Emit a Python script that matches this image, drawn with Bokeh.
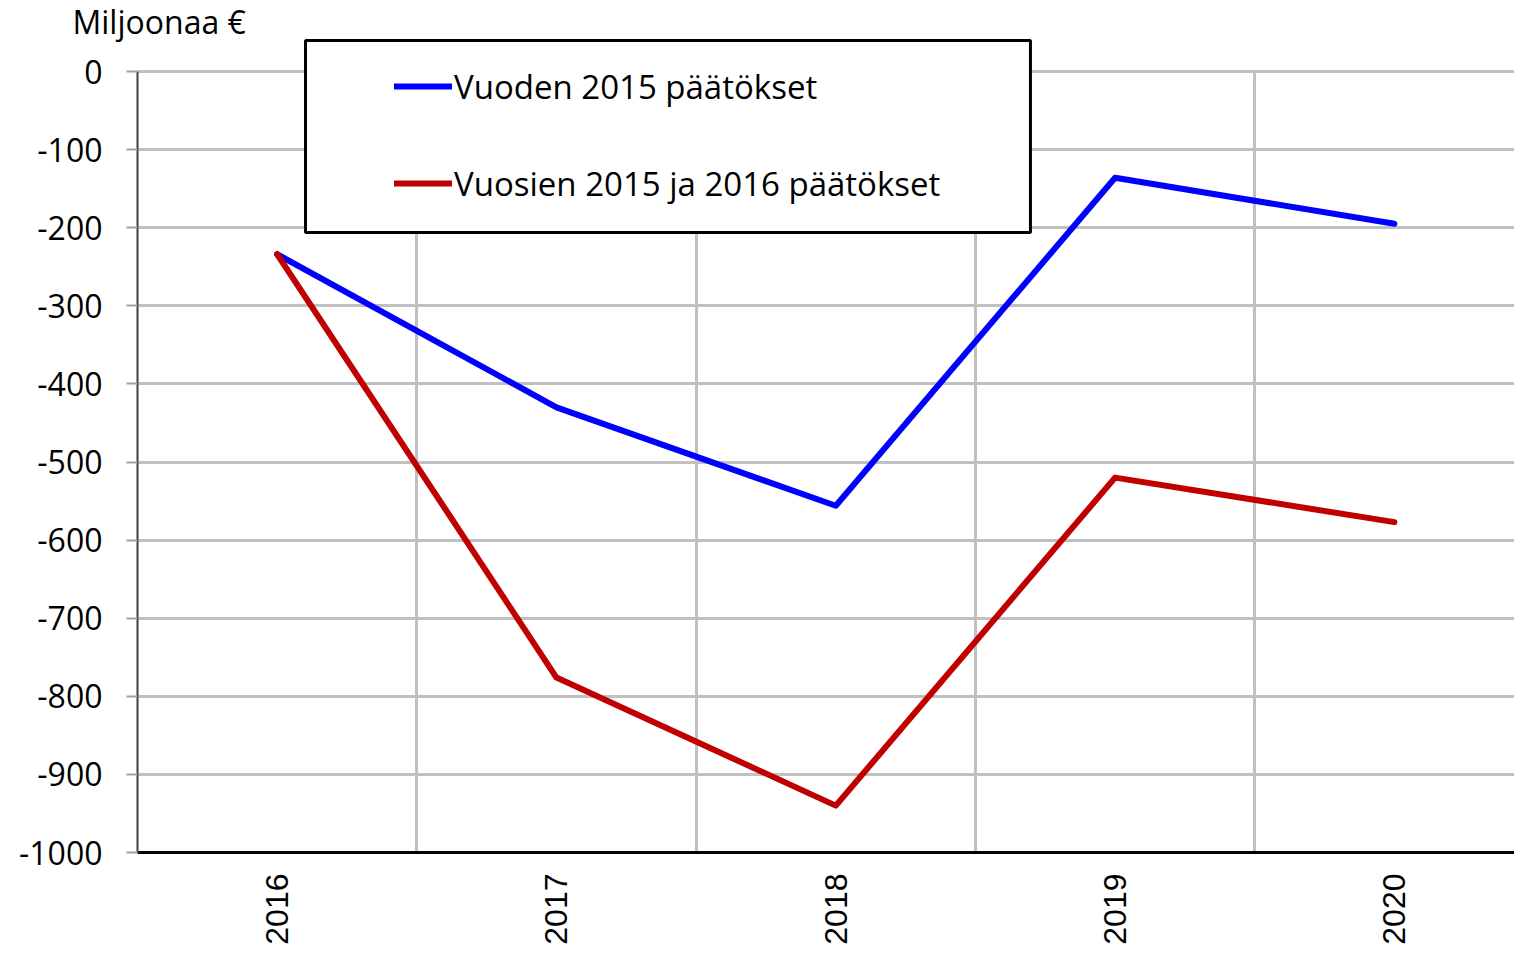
import math
from bokeh.plotting import figure
from bokeh.models import (Range1d, FixedTicker, Grid, Legend, LegendItem,
                          BoxAnnotation)
from bokeh.embed import file_html
from bokeh.resources import INLINE

# ---- data ----
years = [2016, 2017, 2018, 2019, 2020]
decisions_2015 = [-234, -430, -556, -136, -195]
decisions_2015_2016 = [-234, -776, -940, -520, -577]
y_ticks = [0, -100, -200, -300, -400, -500, -600, -700, -800, -900, -1000]
label_2015 = "Vuoden 2015 päätökset"
label_2015_2016 = "Vuosien 2015 ja 2016 päätökset"
unit_label = "Miljoonaa €"

FONT = "Open Sans"
TOP = 38            # frame top in pixels
PX_PER_UNIT = 0.781  # pixels per data unit on y
y_end = (71 - TOP) / PX_PER_UNIT

p = figure(width=1514, height=953, output_backend="svg", toolbar_location=None,
           x_range=Range1d(2015.5, 2020.43), y_range=Range1d(-1000, y_end),
           min_border_left=137, min_border_top=TOP, min_border_right=0,
           min_border_bottom=101)
p.outline_line_color = None
p.background_fill_color = "white"

# title used as unit label
p.title.text = unit_label
p.title.align = "left"
p.title.offset = -65
p.title.text_font = FONT
p.title.text_font_size = "32px"
p.title.text_font_style = "normal"
p.title.text_color = "black"
p.title.standoff = -8

# grids
p.xgrid.visible = False
p.ygrid.ticker = FixedTicker(ticks=y_ticks)
p.ygrid.grid_line_color = "#c0c0c0"
p.ygrid.grid_line_width = 3
vgrid = Grid(dimension=0, ticker=FixedTicker(ticks=[y + 0.5 for y in years[:-1]]),
             grid_line_color="#c0c0c0", grid_line_width=3,
             cross_bounds=(-1000, 0))
p.add_layout(vgrid)

# axes
p.xaxis.ticker = FixedTicker(ticks=years)
p.xaxis.major_label_orientation = math.pi / 2
p.xaxis.major_label_text_font = "Liberation Sans"
p.xaxis.major_label_text_font_size = "32px"
p.xaxis.major_label_text_color = "black"
p.xaxis.major_label_standoff = 21
p.xaxis.major_tick_out = 0
p.xaxis.major_tick_in = 0
p.xaxis.minor_tick_line_color = None
p.xaxis.axis_line_color = "black"
p.xaxis.axis_line_width = 3

p.yaxis.ticker = FixedTicker(ticks=y_ticks)
p.yaxis.bounds = (-1000, 0)
p.yaxis.major_label_overrides = {t: str(t) for t in y_ticks}
p.yaxis.major_label_text_font = FONT
p.yaxis.major_label_text_font_size = "32px"
p.yaxis.major_label_text_color = "black"
p.yaxis.major_label_standoff = 24
p.yaxis.major_tick_out = 11
p.yaxis.major_tick_in = 0
p.yaxis.major_tick_line_color = "#a0a0a0"
p.yaxis.major_tick_line_width = 2
p.yaxis.minor_tick_line_color = None
p.yaxis.axis_line_color = "#404040"
p.yaxis.axis_line_width = 2

# lines
r1 = p.line(years, decisions_2015, line_color="#0000ff", line_width=6,
            line_cap="round", line_join="round")
r2 = p.line(years, decisions_2015_2016, line_color="#c00000", line_width=6,
            line_cap="round", line_join="round")

# legend frame
box = BoxAnnotation(left=2016.1015, right=2018.697, top=y_end - 2 / PX_PER_UNIT,
                    bottom=-206.1,
                    fill_color="white", fill_alpha=1.0,
                    line_color="black", line_width=3, line_alpha=1.0)
p.add_layout(box)

legend = Legend(items=[LegendItem(label=label_2015, renderers=[r1]),
                       LegendItem(label=label_2015_2016, renderers=[r2])],
                location=(257, 646), padding=0, margin=0, spacing=51,
                glyph_width=58, glyph_height=46, label_height=46,
                label_standoff=2, border_line_alpha=0,
                background_fill_alpha=0,
                label_text_font=FONT, label_text_font_size="33px",
                label_text_color="black")
p.add_layout(legend)

open("out.html", "w").write(file_html(p, INLINE))
